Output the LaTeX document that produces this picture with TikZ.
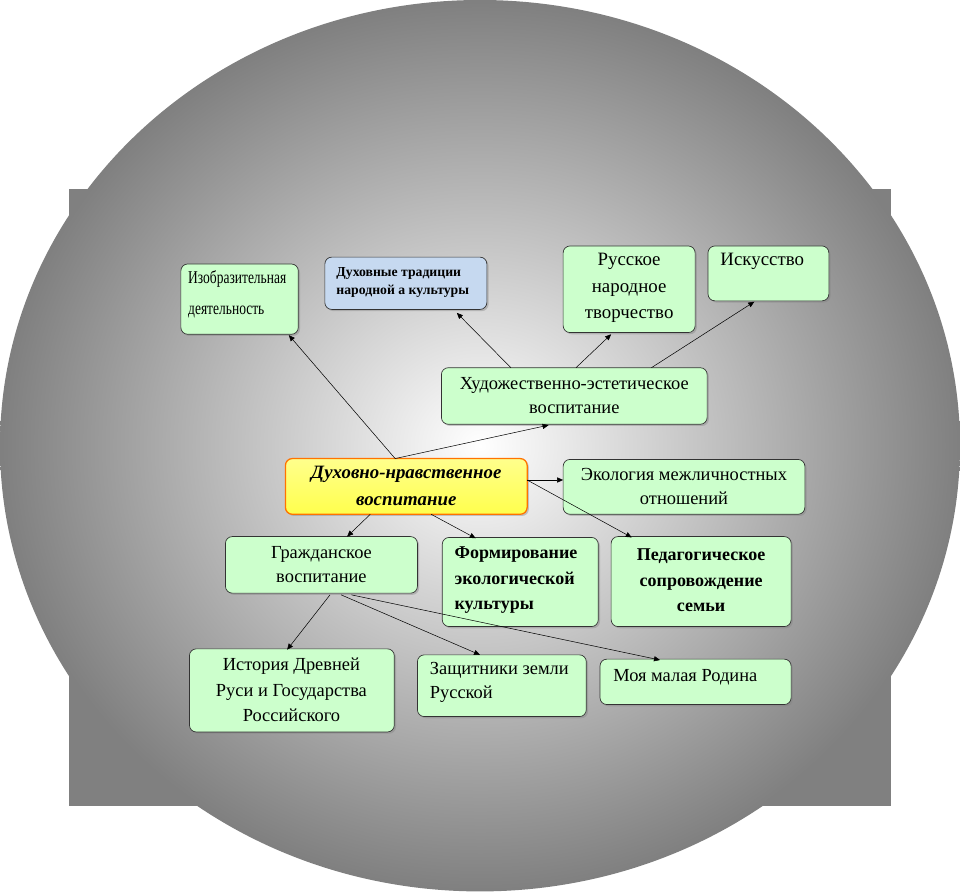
\documentclass[tikz,border=0pt]{standalone}
\usepackage{fontspec}
\setmainfont{Liberation Serif}
\newfontfamily\narrowf[FakeStretch=0.75]{Liberation Serif}
\usetikzlibrary{arrows.meta,shadows}
\definecolor{bluebox}{HTML}{C6D9F0}
\definecolor{greenbox}{HTML}{CCFFCC}
\begin{document}
\begin{tikzpicture}[x=1pt,y=-1pt,
 bx/.style={draw=black!80,line width=0.8pt,fill=greenbox,rounded corners=8pt,drop shadow={shadow xshift=2pt,shadow yshift=-2pt,opacity=0.4}},
 tx/.style={align=center,font=\fontsize{21.5}{28}\selectfont},
 ar/.style={-{Triangle[length=7pt,width=6pt]},line width=0.6pt}]
\fill[black!50] (0,0) rectangle (960,720);
\shade[inner color=white,outer color=black!50] (480,300) ellipse (560 and 520);
\useasboundingbox (0,0) rectangle (960,720);
\path[bx] (131,88) rectangle (268,170); \node[anchor=north west,align=left,font=\narrowf\fontsize{21}{36}\selectfont] (izo) at (136,92) {Изобразительная\\деятельность};
\coordinate (izoA) at (257,171);
\path[bx,fill=bluebox] (299,80) rectangle (488,141); \node[anchor=north west,align=left,font=\bfseries\fontsize{16}{22}\selectfont] (dux) at (309,88) {Духовные традиции\\народной а культуры};
\coordinate (duxA) at (453,145);
\path[bx] (577,67) rectangle (731,168); \node[tx,font=\fontsize{22}{31}\selectfont] (rus) at (654,116) {Русское\\народное\\творчество};
\coordinate (rusA) at (633,170);
\path[bx] (746,67) rectangle (887,131); \node[anchor=north west,font=\fontsize{22}{26}\selectfont] (isk) at (757,72) {Искусство};
\coordinate (iskA) at (800,132);
\path[bx] (435,209) rectangle (745,275); \node[tx] (hud) at (590,242) {Художественно-эстетическое\\воспитание};
\path[bx,draw=orange!90!red,line width=1.5pt,top color=yellow!45,bottom color=yellow!70] (253,315) rectangle (535,380);
\node[tx,font=\bfseries\itshape\fontsize{22}{31}\selectfont] (cen) at (394,347) {Духовно-нравственное\\воспитание};
\path[bx] (577,316) rectangle (859,380); \node[tx] (eco) at (718,348) {Экология межличностных\\отношений};
\path[bx] (183,406) rectangle (407,472); \node[tx] (gra) at (295,439) {Гражданское\\воспитание};
\path[bx] (436,407) rectangle (618,511); \node[tx,font=\bfseries\fontsize{21}{30}\selectfont,align=left] (form) at (522,457) {Формирование\\экологической\\культуры};
\path[bx] (633,406) rectangle (843,511); \node[tx,font=\bfseries\fontsize{21}{30}\selectfont] (ped) at (738,457) {Педагогическое\\сопровождение\\семьи};
\path[bx] (141,537) rectangle (380,634); \node[tx,font=\fontsize{21.5}{30}\selectfont] (ist) at (260,585) {История Древней\\Руси и Государства\\Российского};
\path[bx] (407,544) rectangle (604,616); \node[tx,align=left,anchor=north west] (zas) at (418,549) {Защитники земли\\Русской};
\path[bx] (620,549) rectangle (843,602); \node[tx,anchor=north west] (moy) at (632,558) {Моя малая Родина};
\coordinate (c1) at (381,315); \coordinate (c2) at (535,340); \coordinate (c3) at (352,380); \coordinate (c4) at (423,380);
\coordinate (h1) at (516,209); \coordinate (h2) at (592,209); \coordinate (h3) at (680,209); \coordinate (hb) at (560,276);
\coordinate (g1) at (305,474); \coordinate (g2) at (318,474); \coordinate (g3) at (330,474);
\draw[ar] (c1) -- (izoA);
\draw[ar] (c1) -- (hb);
\draw[ar] (h1) -- (duxA);
\draw[ar] (h2) -- (rusA);
\draw[ar] (h3) -- (iskA);
\draw[ar] (c2) -- (577,340) coordinate (ecoA);
\draw[ar] (c2) -- (657,407) coordinate (pedA);
\draw[ar] (c3) -- (325,406) coordinate (graA);
\draw[ar] (c4) -- (475,408) coordinate (formA);
\draw[ar] (g1) -- (255,538) coordinate (istA);
\draw[ar] (g2) -- (480,544) coordinate (zasA);
\draw[ar] (g3) -- (690,550) coordinate (moyA);
\end{tikzpicture}
\end{document}
